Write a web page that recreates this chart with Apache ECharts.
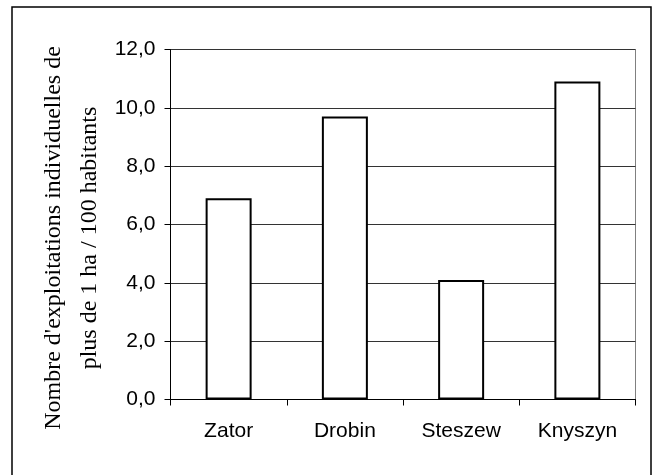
<!DOCTYPE html>
<html lang="fr">
<head>
    <meta charset="UTF-8">
    <title>Exploitations individuelles</title>
    <script src="https://cdn.jsdelivr.net/npm/echarts@6/dist/echarts.min.js"></script>
    <style>
        html, body { margin: 0; padding: 0; background: #fff; }
        #main { width: 655px; height: 475px; }
    </style>
</head>
<body>
<div id="main"></div>
<script>
    // données
    const communes = ['Zator', 'Drobin', 'Steszew', 'Knyszyn'];
    const exploitations = [6.9, 9.7, 4.1, 10.9];
    const yTitre = "Nombre d'exploitations individuelles de\nplus de 1 ha / 100 habitants";

    let myChart = echarts.init(document.getElementById('main'));
    let option = {
        backgroundColor: '#fff',
        animation: false,
        grid: {
            left: 170.5,
            right: 19.5,
            top: 49.5,
            bottom: 75.5,
            show: true,
            borderColor: '#808080',
            borderWidth: 1
        },
        xAxis: {
            type: 'category',
            data: communes,
            axisLine: { lineStyle: { color: '#000', width: 1 } },
            axisTick: { show: true, length: 6, lineStyle: { color: '#000' } },
            axisLabel: {
                color: '#000',
                fontFamily: 'Liberation Sans, Arial',
                fontSize: 21,
                margin: 21
            }
        },
        yAxis: {
            type: 'value',
            min: 0,
            max: 12,
            interval: 2,
            axisLine: { show: true, lineStyle: { color: '#000', width: 1 } },
            axisTick: { show: true, length: 6, lineStyle: { color: '#000' } },
            splitLine: { lineStyle: { color: '#333', width: 1 } },
            axisLabel: {
                color: '#000',
                fontFamily: 'Liberation Sans, Arial',
                fontSize: 21,
                margin: 15,
                formatter: function(v) {
                    return v.toFixed(1).replace('.', ',');
                }
            }
        },
        series: [{
            type: 'bar',
            data: exploitations,
            barWidth: 46,
            itemStyle: {
                color: '#fff',
                borderColor: '#000',
                borderWidth: 2
            }
        }],
        graphic: [
            {
                type: 'rect',
                shape: { x: 12, y: 7, width: 639, height: 490 },
                style: { fill: 'none', stroke: '#000', lineWidth: 1.5 },
                silent: true
            },
            {
                type: 'text',
                x: 72,
                y: 238,
                rotation: Math.PI / 2,
                style: {
                    text: yTitre,
                    font: '24px "Liberation Serif", "Times New Roman", serif',
                    fill: '#000',
                    align: 'center',
                    verticalAlign: 'middle',
                    lineHeight: 36
                }
            }
        ]
    };

    myChart.setOption(option);
</script>
</body>
</html>
